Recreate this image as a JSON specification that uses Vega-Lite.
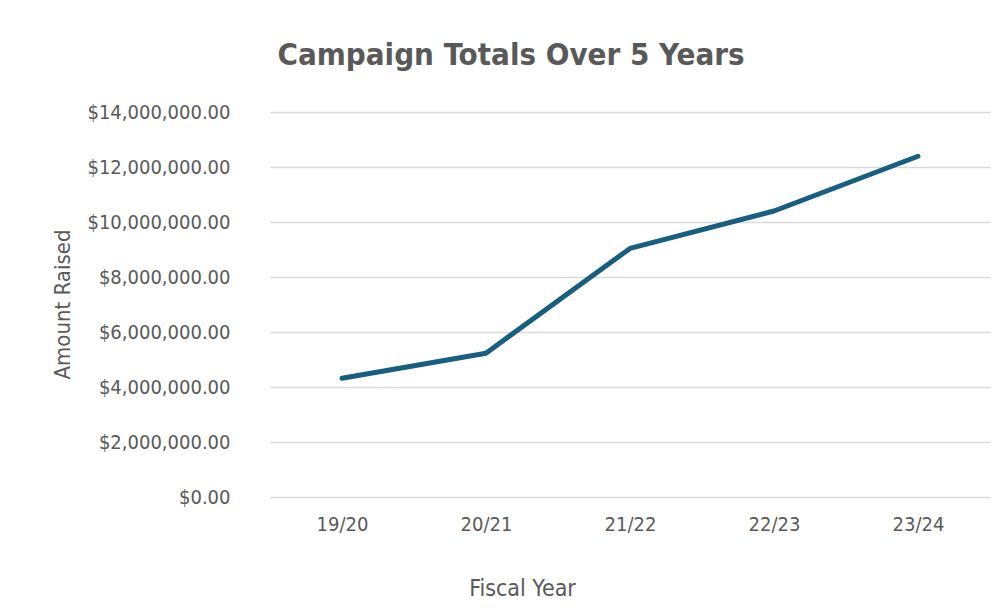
{
  "$schema": "https://vega.github.io/schema/vega-lite/v6.json",
  "autosize": {"type": "none"},
  "width": 720,
  "height": 385,
  "padding": {"left": 270, "top": 112, "right": 14, "bottom": 119},
  "background": "white",
  "title": {
    "text": "Campaign Totals Over 5 Years",
    "font": "DejaVu Sans Condensed, Liberation Sans, sans-serif",
    "fontSize": 31,
    "fontWeight": "bold",
    "color": "#595959",
    "anchor": "middle",
    "dx": -119,
    "baseline": "alphabetic",
    "offset": 6
  },
  "data": {
    "values": [
      {"year": "19/20", "amount": 4320000},
      {"year": "20/21", "amount": 5230000},
      {"year": "21/22", "amount": 9040000},
      {"year": "22/23", "amount": 10400000},
      {"year": "23/24", "amount": 12390000}
    ]
  },
  "mark": {"type": "line", "color": "#175e80", "strokeWidth": 5, "strokeCap": "round", "strokeJoin": "round"},
  "encoding": {
    "x": {
      "field": "year",
      "type": "ordinal",
      "scale": {"type": "point", "padding": 0.5},
      "axis": {
        "title": "Fiscal Year",
        "titleX": 252,
        "titleY": 91,
        "titleAnchor": null,
        "titleAlign": "center",
        "titleBaseline": "middle",
        "titleFont": "DejaVu Sans Condensed, Liberation Sans, sans-serif",
        "titleFontSize": 23,
        "titleFontWeight": "normal",
        "titleColor": "#595959",
        "labelFont": "DejaVu Sans Condensed, Liberation Sans, sans-serif",
        "labelFontSize": 20,
        "labelColor": "#595959",
        "labelAngle": 0,
        "labelPadding": 17,
        "domain": false,
        "ticks": false,
        "grid": false
      }
    },
    "y": {
      "field": "amount",
      "type": "quantitative",
      "scale": {"domain": [0, 14000000]},
      "axis": {
        "title": "Amount Raised",
        "titleX": -208,
        "titleY": 192,
        "titleAnchor": null,
        "titleAngle": -90,
        "titleAlign": "center",
        "titleBaseline": "middle",
        "titleFont": "DejaVu Sans Condensed, Liberation Sans, sans-serif",
        "titleFontSize": 22,
        "titleFontWeight": "normal",
        "titleColor": "#595959",
        "values": [0, 2000000, 4000000, 6000000, 8000000, 10000000, 12000000, 14000000],
        "format": "$,.2f",
        "labelFont": "DejaVu Sans Condensed, Liberation Sans, sans-serif",
        "labelFontSize": 20,
        "labelColor": "#595959",
        "labelPadding": 40,
        "domain": false,
        "ticks": false,
        "grid": true,
        "gridColor": "#d9d9d9",
        "gridWidth": 1.5
      }
    }
  },
  "config": {
    "view": {"stroke": null}
  }
}
